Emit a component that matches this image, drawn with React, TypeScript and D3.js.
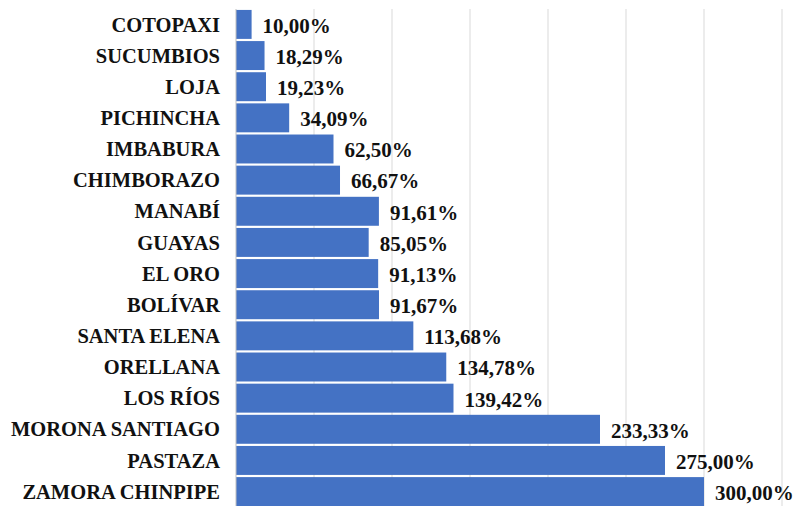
import React from "react";
import * as d3 from "d3";

const categories = [
  "COTOPAXI",
  "SUCUMBIOS",
  "LOJA",
  "PICHINCHA",
  "IMBABURA",
  "CHIMBORAZO",
  "MANABÍ",
  "GUAYAS",
  "EL ORO",
  "BOLÍVAR",
  "SANTA ELENA",
  "ORELLANA",
  "LOS RÍOS",
  "MORONA SANTIAGO",
  "PASTAZA",
  "ZAMORA CHINPIPE",
];

const values = [
  10.0, 18.29, 19.23, 34.09, 62.5, 66.67, 91.61, 85.05, 91.13, 91.67, 113.68,
  134.78, 139.42, 233.33, 275.0, 300.0,
];

const gridTicks = [0, 50, 100, 150, 200, 250, 300, 350];

const W = 795;
const H = 506;
const FONT = '"Liberation Serif", "Times New Roman", Times, serif';

export default function App() {
  const x = d3.scaleLinear().domain([0, 350]).range([236, 782]);
  const y = d3
    .scaleBand<string>()
    .domain(categories)
    .range([9, 507])
    .paddingInner(0.07)
    .paddingOuter(0.03);
  const fmt = (v: number) => d3.format(".2f")(v).replace(".", ",") + "%";

  return (
    <svg
      width={W}
      height={H}
      style={{ position: "absolute", left: 0, top: 0, background: "#fff" }}
    >
      <rect x={0} y={0} width={W} height={H} fill="#fff" />
      {gridTicks.slice(1).map((t) => (
        <line
          key={t}
          x1={x(t)}
          x2={x(t)}
          y1={9}
          y2={H}
          stroke="#d9d9d9"
          strokeWidth={1}
        />
      ))}
      {categories.map((c, i) => (
        <rect
          key={c}
          x={x(0)}
          y={y(c)}
          width={x(values[i]) - x(0)}
          height={y.bandwidth()}
          fill="#4472C4"
        />
      ))}
      <line x1={x(0)} x2={x(0)} y1={9} y2={H} stroke="#bfbfbf" strokeWidth={1} />
      {categories.map((c) => (
        <text
          key={"c" + c}
          x={220}
          y={(y(c) as number) + y.bandwidth() / 2}
          dy="0.35em"
          textAnchor="end"
          style={{ fontFamily: FONT, fontWeight: 700, fontSize: "20.5px" }}
          fill="#111"
        >
          {c}
        </text>
      ))}
      {categories.map((c, i) => (
        <text
          key={"v" + c}
          x={x(values[i]) + 11}
          y={(y(c) as number) + y.bandwidth() / 2 + 1}
          dy="0.35em"
          textAnchor="start"
          style={{ fontFamily: FONT, fontWeight: 700, fontSize: "21px" }}
          fill="#111"
        >
          {fmt(values[i])}
        </text>
      ))}
    </svg>
  );
}
